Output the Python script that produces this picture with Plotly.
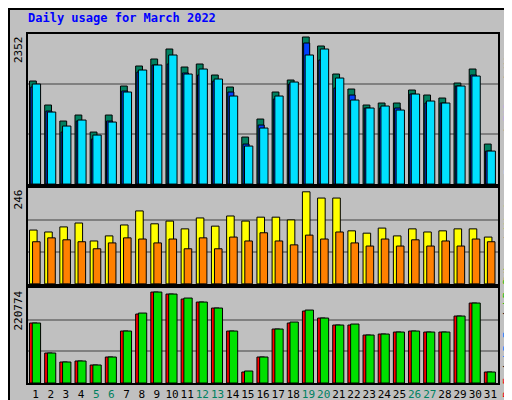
import plotly.graph_objects as go

days = list(range(1, 32))
weekend = [5, 6, 12, 13, 19, 20, 26, 27]

hits = [1648, 1264, 1008, 1104, 832, 1104, 1568, 1888, 2000, 2160, 1872, 1920, 1744, 1552, 752, 1040,
        1472, 1664, 2352, 2208, 1760, 1520, 1264, 1296, 1296, 1504, 1424, 1376, 1616, 1840, 640]
files = [1552, 1168, 832, 1008, 720, 1008, 1488, 1792, 1904, 1920, 1776, 1744, 1648, 1472, 640, 944,
         1360, 1600, 2256, 1984, 1536, 1424, 1216, 1216, 1216, 1440, 1296, 1296, 1568, 1744, 528]
pages = [1600, 1152, 928, 1024, 784, 992, 1472, 1824, 1904, 2064, 1760, 1840, 1680, 1408, 608, 896,
         1408, 1632, 2064, 2160, 1696, 1344, 1216, 1248, 1184, 1440, 1328, 1296, 1568, 1728, 528]
visits = [138, 133, 146, 156, 110, 123, 151, 187, 154, 161, 141, 169, 148, 174, 161, 171,
          171, 164, 236, 220, 220, 136, 130, 143, 123, 141, 133, 136, 141, 141, 120]
sites = [108, 118, 113, 108, 90, 105, 118, 115, 105, 115, 90, 118, 90, 120, 110, 131,
         110, 100, 125, 115, 133, 105, 97, 115, 97, 113, 97, 110, 97, 115, 108]
kb_f = [145560, 72780, 50946, 53372, 43668, 63076, 126152, 167394, 220774, 215922, 203792, 196514,
        181958, 126152, 26686, 63076, 131004, 145560, 174672, 157690, 140708, 140708, 116448, 118874,
        123726, 126152, 123726, 123726, 162542, 194088, 26686]
kb_out = [145560, 72780, 50946, 53372, 43668, 63076, 126152, 169820, 220774, 215922, 206218, 196514,
          181958, 126152, 29112, 63076, 131004, 147986, 177098, 157690, 140708, 143134, 116448, 118874,
          123726, 126152, 123726, 123726, 162542, 194088, 26686]

BG = "#c0c0c0"
mono = "DejaVu Sans Mono"

fig = go.Figure()

def bars(y, color, offset, width, axis):
    fig.add_trace(go.Bar(x=days, y=y, offset=offset, width=width, marker_color=color,
                         marker_line_color="black", marker_line_width=1,
                         xaxis="x" + axis, yaxis="y" + axis))

bars(hits, "#008060", -0.4, 0.45, "")
bars(files, "#0040ff", -0.32, 0.4, "")
bars(pages, "#00e0ff", -0.22, 0.55, "")
bars(visits, "#ffff00", -0.4, 0.5, "2")
bars(sites, "#ff8000", -0.2, 0.5, "2")
bars(kb_f, "#ff0000", -0.4, 0.5, "3")
bars(kb_out, "#00e000", -0.22, 0.55, "3")

def yax(domain, top):
    return dict(domain=domain, range=[0, top], tickvals=[top / 3, top * 2 / 3], showticklabels=False,
                ticks="", gridcolor="#808080", gridwidth=1.5, showline=True, linecolor="black",
                linewidth=2, mirror=True, zeroline=False, fixedrange=True)

def xax(anchor, labels):
    ticktext = [f"<span style='color:{'#008060' if d in weekend else 'black'}'>{d}</span>" for d in days]
    return dict(anchor=anchor, range=[0.5, 31.5], tickvals=days, ticktext=ticktext, tickangle=0,
                showticklabels=labels, ticks="", showline=True, linecolor="black", linewidth=2,
                mirror=True, showgrid=False, zeroline=False, automargin=False,
                tickfont=dict(family=mono, size=11))

fig.update_layout(
    width=512, height=400, paper_bgcolor=BG, plot_bgcolor=BG, showlegend=False,
    barmode="overlay", margin=dict(l=20, r=22, t=26, b=25, autoexpand=False),
    xaxis=xax("y", False), xaxis2=xax("y2", False), xaxis3=xax("y3", True),
    yaxis=yax([0.57, 1], 2400), yaxis2=yax([0.284, 0.559], 246), yaxis3=yax([0, 0.272], 230470),
    font=dict(family=mono, size=11, color="black"),
)

fig.add_annotation(text="<b>Daily usage for March 2022</b>", x=0, y=1, xref="paper", yref="paper",
                   xanchor="left", yanchor="middle", xshift=-2, yshift=16, showarrow=False,
                   font=dict(color="#0000ff", size=12, family=mono))

for y, text in [(1, "2352"), (0.559, "246"), (0.272, "220774")]:
    fig.add_annotation(text=text, x=0, y=y, xref="paper", yref="paper", textangle=-90,
                       xanchor="right", yanchor="top", showarrow=False, xshift=-1,
                       font=dict(family=mono, size=11))

for y, text in [
    (0.785, "<span style='color:#00e0ff'>Pages</span> / <span style='color:#0040ff'>Files</span> / <span style='color:#008060'>Hits</span>"),
    (0.42, "<span style='color:#ff8000'>Sites</span> / <span style='color:#e0e000'>Visits</span>"),
    (0.136, "<span style='color:#ff0000'>kB F</span> / <span style='color:#0080ff'>kB In</span> / <span style='color:#00c000'>kB Out</span>"),
]:
    fig.add_annotation(text=text, x=1, y=y, xref="paper", yref="paper", textangle=-90,
                       xanchor="center", yanchor="middle", showarrow=False, xshift=10,
                       font=dict(family=mono, size=11))

fig.add_shape(type="rect", xref="paper", yref="paper", x0=-19 / 470, x1=1 + 20 / 470,
              y0=-23 / 349, y1=1 + 25 / 349, line=dict(color="black", width=2))

fig.write_html("out.html")
